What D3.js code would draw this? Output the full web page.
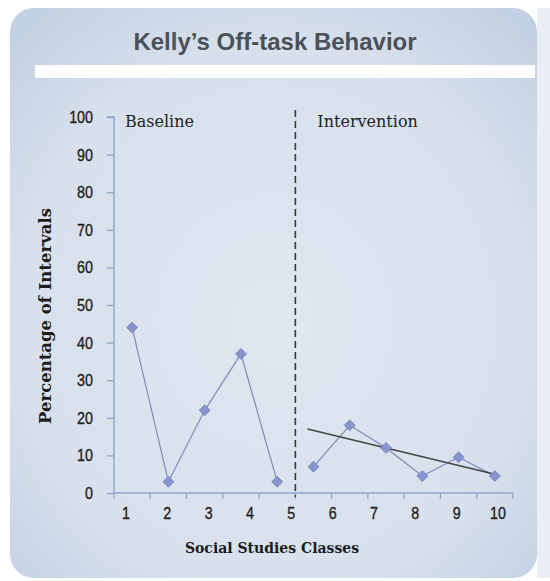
<!DOCTYPE html>
<html>
<head>
<meta charset="utf-8">
<script src="https://cdn.jsdelivr.net/npm/d3@7"></script>
<style>
body { margin:0; background:#fff; }
</style>
</head>
<body>
<div id="svgContainer"></div>
<script>
// data
var sessions = [1,2,3,4,5,6,7,8,9,10,11];
var baselineValues = [44, 3, 22, 37, 3];
var interventionValues = [7, 18, 12, 4.5, 9.5, 4.5];
var classLabels = [1,2,3,4,5,6,7,8,9,10];
var yTicks = [0,10,20,30,40,50,60,70,80,90,100];
var trendSessions = [6, 11];
var trendValues = [17, 5];
var phaseNames = ["Baseline", "Intervention"];

var svgWidth = 550, svgHeight = 581;
var svg = d3.select("#svgContainer").append("svg")
    .attr("width", svgWidth)
    .attr("height", svgHeight);

var defs = svg.append("defs");
var grad = defs.append("radialGradient").attr("id","panelGrad")
    .attr("cx","50%").attr("cy","55%").attr("r","70%");
grad.append("stop").attr("offset","0%").attr("stop-color","#dfe7f0");
grad.append("stop").attr("offset","70%").attr("stop-color","#d7e0ec");
grad.append("stop").attr("offset","100%").attr("stop-color","#c2d1e3");

// panel
svg.append("rect")
    .attr("x", 10).attr("y", 8)
    .attr("width", 527).attr("height", 570)
    .attr("rx", 24).attr("ry", 24)
    .attr("fill", "url(#panelGrad)");
svg.append("rect")
    .attr("x", 537).attr("y", 8)
    .attr("width", 13).attr("height", 570)
    .attr("fill", "#e9eef5");

svg.append("text")
    .attr("x", 275).attr("y", 50)
    .attr("text-anchor", "middle")
    .attr("font-family", "Liberation Sans, Arial, sans-serif")
    .attr("font-weight", "bold")
    .attr("font-size", 24)
    .attr("fill", "#4b5158")
    .text("Kelly\u2019s Off-task Behavior");

svg.append("rect")
    .attr("x", 35).attr("y", 65)
    .attr("width", 500).attr("height", 13)
    .attr("fill", "#ffffff");

// scales
var x = d3.scaleBand().domain(sessions).range([114, 513]).padding(0);
var y = d3.scaleLinear().domain([0, 100]).range([493, 117]);
var xLab = d3.scalePoint().domain(classLabels).range([126, 498]);

var axisColor = "#8fa6cc";
var numFont = "Liberation Sans, Arial, sans-serif";

// squeeze numbers to look like a condensed face
function condense(sel){
    sel.each(function(){
        var w = this.getComputedTextLength();
        d3.select(this).attr("textLength", w * 0.84).attr("lengthAdjust", "spacingAndGlyphs");
    });
}

// y axis
var yAxis = svg.append("g")
    .attr("transform", "translate(114,0)")
    .call(d3.axisLeft(y).tickValues(yTicks).tickSize(7).tickPadding(14));
yAxis.select(".domain").attr("stroke", axisColor).attr("stroke-width", 1.5)
    .attr("d", "M-7," + y(100) + "H0V" + y(0));
yAxis.selectAll(".tick line").attr("stroke", axisColor).attr("stroke-width", 1.3);
yAxis.selectAll(".tick text")
    .attr("font-family", numFont).attr("font-size", 17).attr("fill", "#1e1e1e")
    .attr("stroke", "#1e1e1e").attr("stroke-width", 0.35)
    .call(condense);

// x axis: ticks on the band edges, labels on their own scale
var edges = sessions.map(function(s){ return x(s); }).concat([x.range()[1]]);
var xg = svg.append("g");
xg.append("line")
    .attr("x1", x.range()[0]).attr("x2", x.range()[1])
    .attr("y1", y(0)).attr("y2", y(0))
    .attr("stroke", axisColor).attr("stroke-width", 1.5);
xg.selectAll(".xt").data(edges).enter().append("line")
    .attr("x1", function(d){ return d; }).attr("x2", function(d){ return d; })
    .attr("y1", y(0)).attr("y2", y(0) + 6)
    .attr("stroke", axisColor).attr("stroke-width", 1.3);
xg.selectAll(".xl").data(classLabels).enter().append("text")
    .attr("x", function(d){ return xLab(d); })
    .attr("y", y(0) + 26)
    .attr("text-anchor", "middle")
    .attr("font-family", numFont).attr("font-size", 17).attr("fill", "#1e1e1e")
    .attr("stroke", "#1e1e1e").attr("stroke-width", 0.35)
    .text(function(d){ return d; })
    .call(condense);

// phase change line
svg.append("line")
    .attr("x1", x(6)).attr("x2", x(6))
    .attr("y1", y(100) - 7).attr("y2", y(0) + 4)
    .attr("stroke", "#3a3a3a").attr("stroke-width", 1.6)
    .attr("stroke-dasharray", "7,4");

svg.append("text")
    .attr("x", x(1) + 11).attr("y", y(100) + 10)
    .attr("font-family", "DejaVu Serif, serif")
    .attr("font-size", 16).attr("fill", "#222")
    .text(phaseNames[0]);
svg.append("text")
    .attr("x", x(6) + 22).attr("y", y(100) + 10)
    .attr("font-family", "DejaVu Serif, serif")
    .attr("font-size", 16).attr("fill", "#222")
    .text(phaseNames[1]);

// data series
var cx = function(s){ return x(s) + x.bandwidth()/2; };
var baseline = baselineValues.map(function(v,i){ return {s: sessions[i], v: v}; });
var intervention = interventionValues.map(function(v,i){ return {s: sessions[i+5], v: v}; });
var line = d3.line().x(function(d){ return cx(d.s); }).y(function(d){ return y(d.v); });

[baseline, intervention].forEach(function(series){
    svg.append("path")
        .attr("d", line(series))
        .attr("fill", "none")
        .attr("stroke", "#8391bd")
        .attr("stroke-width", 1.3);
});

// trend line
var trend = trendSessions.map(function(s,i){ return {s: s, v: trendValues[i]}; });
svg.append("path")
    .attr("d", d3.line().x(function(d,i){ return cx(d.s) - (i == 0 ? 6 : 0); })
        .y(function(d){ return y(d.v); })(trend))
    .attr("fill", "none")
    .attr("stroke", "#454545")
    .attr("stroke-width", 1.6);

var marker = d3.symbol().type(d3.symbolSquare).size(60);
svg.selectAll(".pt").data(baseline.concat(intervention)).enter().append("path")
    .attr("d", marker)
    .attr("transform", function(d){ return "translate(" + cx(d.s) + "," + y(d.v) + ") rotate(45)"; })
    .attr("fill", "#8795cc")
    .attr("stroke", "#7482bb")
    .attr("stroke-width", 0.8);

// axis titles
svg.append("text")
    .attr("transform", "translate(51,316) rotate(-90)")
    .attr("text-anchor", "middle")
    .attr("font-family", "DejaVu Serif, serif")
    .attr("font-weight", "bold")
    .attr("font-size", 16.5)
    .attr("fill", "#1c1c1c")
    .text("Percentage of Intervals");
svg.append("text")
    .attr("x", 272).attr("y", 553)
    .attr("text-anchor", "middle")
    .attr("font-family", "DejaVu Serif, serif")
    .attr("font-weight", "bold")
    .attr("font-size", 14)
    .attr("fill", "#1c1c1c")
    .text("Social Studies Classes");
</script>
</body>
</html>
